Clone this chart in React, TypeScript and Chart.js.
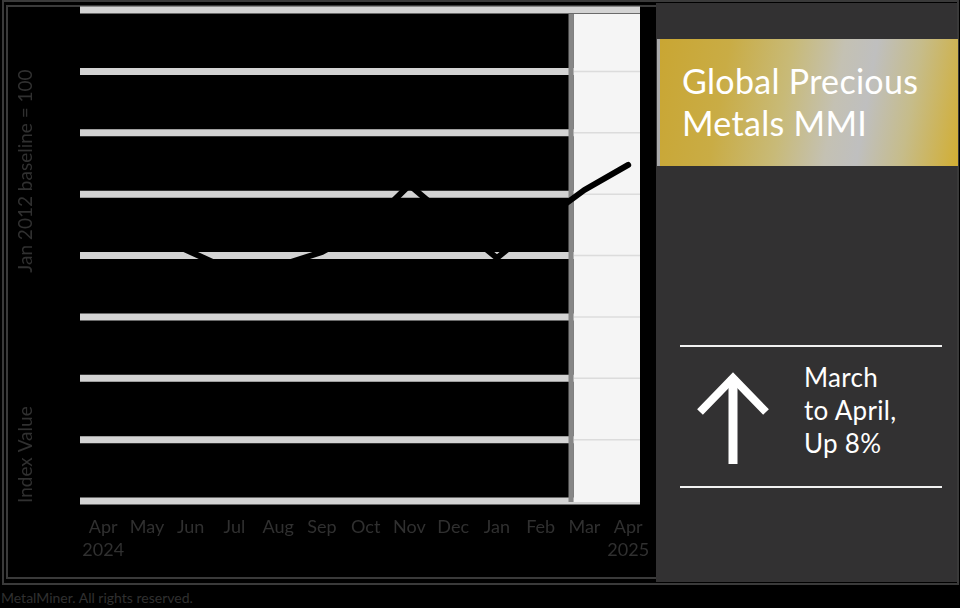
import React, { useEffect, useRef } from "react";
import { Chart, registerables } from "chart.js";

Chart.register(...registerables);

// ---- data ----
const months = ["Apr", "May", "Jun", "Jul", "Aug", "Sep", "Oct", "Nov", "Dec", "Jan", "Feb", "Mar", "Apr"];
const years = ["2024", "", "", "", "", "", "", "", "", "", "", "", "2025"];
const mmiValues = [1120, 1096, 1014, 933, 957, 1014, 1112, 1287, 1136, 990, 1136, 1267, 1369];
const yTicks = [0, 250, 500, 750, 1000, 1250, 1500, 1750, 2000];
const yTitleBottom = "Index Value";
const yTitleTop = "Jan 2012 baseline = 100";
const headline = ["Global Precious", "Metals MMI"];
const changeText = ["March", "to April,", "Up 8%"];
const footerText = "MetalMiner. All rights reserved.";
const highlightFrom = 10.75;

const FONT = "Lato, 'Open Sans', sans-serif";
const DIM_TEXT = "#303030";

const backdropPlugin = {
  id: "backdrop",
  beforeDatasetsDraw(chart: any) {
    const { ctx, chartArea: a, scales } = chart;
    const xs = scales.x;
    const ys = scales.y;
    ctx.save();
    // thick grid bands
    ctx.strokeStyle = "#d3d3d3";
    ctx.lineWidth = 7;
    yTicks.forEach((t) => {
      const py = ys.getPixelForValue(t);
      ctx.beginPath();
      ctx.moveTo(a.left, py);
      ctx.lineTo(a.right, py);
      ctx.stroke();
    });
    // highlighted last-month region
    const sx = xs.getPixelForValue(highlightFrom);
    ctx.fillStyle = "#f5f5f5";
    ctx.fillRect(sx, a.top + 4, a.right - sx, a.bottom - a.top - 3);
    ctx.strokeStyle = "#dcdcdc";
    ctx.lineWidth = 1.5;
    yTicks.slice(1, -1).forEach((t) => {
      const py = ys.getPixelForValue(t);
      ctx.beginPath();
      ctx.moveTo(sx, py);
      ctx.lineTo(a.right, py);
      ctx.stroke();
    });
    ctx.strokeStyle = "#868686";
    ctx.lineWidth = 5;
    ctx.beginPath();
    ctx.moveTo(sx - 2.5, a.top + 4);
    ctx.lineTo(sx - 2.5, a.bottom + 1);
    ctx.stroke();

    // y-axis titles (rotated)
    ctx.fillStyle = DIM_TEXT;
    ctx.font = `19px ${FONT}`;
    ctx.textBaseline = "middle";
    ctx.textAlign = "left";
    const tx = 26;
    ctx.save();
    ctx.translate(tx, a.bottom + 2);
    ctx.rotate(-Math.PI / 2);
    ctx.fillText(yTitleBottom, 0, 0);
    ctx.restore();
    ctx.save();
    ctx.translate(tx, a.top + (a.bottom - a.top) * 0.535);
    ctx.rotate(-Math.PI / 2);
    ctx.fillText(yTitleTop, 0, 0);
    ctx.restore();
    ctx.restore();
  },
};

function MMIChart() {
  const ref = useRef<HTMLCanvasElement | null>(null);
  useEffect(() => {
    if (!ref.current) return;
    const labels = months.map((m, i) => (years[i] ? [m, years[i]] : m));
    const chart = new Chart(ref.current, {
      type: "line",
      data: {
        datasets: [
          {
            label: "Global Precious Metals MMI",
            data: mmiValues.map((v, i) => ({ x: i, y: v })),
            borderColor: "#000000",
            borderWidth: 6,
            pointRadius: 0,
            tension: 0,
            borderCapStyle: "round",
            borderJoinStyle: "miter",
          } as any,
        ],
      },
      options: {
        responsive: false,
        animation: false,
        layout: { padding: { left: 8, top: 10, right: 16, bottom: 0 } },
        plugins: { legend: { display: false }, tooltip: { enabled: false }, title: { display: false } },
        scales: {
          x: {
            type: "linear",
            min: -0.53,
            max: 12.27,
            grid: { display: false, drawTicks: false },
            border: { display: false },
            afterBuildTicks: (scale: any) => {
              scale.ticks = months.map((_, i) => ({ value: i }));
            },
            afterFit: (scale: any) => {
              scale.height = 79;
              scale.paddingLeft = 0;
              scale.paddingRight = 0;
            },
            ticks: {
              autoSkip: false,
              maxRotation: 0,
              padding: 14,
              color: DIM_TEXT,
              font: { family: FONT, size: 18, lineHeight: 1.3 },
              callback: (val: any) => labels[Math.round(Number(val))] as any,
            },
          },
          y: {
            type: "linear",
            min: yTicks[0],
            max: yTicks[yTicks.length - 1],
            grid: { display: false, drawTicks: false },
            border: { display: false },
            afterBuildTicks: (scale: any) => {
              scale.ticks = yTicks.map((v) => ({ value: v }));
            },
            afterFit: (scale: any) => {
              scale.width = 72;
              scale.paddingTop = 0;
              scale.paddingBottom = 0;
            },
            ticks: { display: false },
          },
        },
      },
      plugins: [backdropPlugin],
    });
    return () => chart.destroy();
  }, []);
  return <canvas ref={ref} width={656} height={580} style={{ display: "block" }} />;
}

export default function App() {
  useEffect(() => {
    document.body.style.margin = "0";
    document.body.style.background = "#000";
  }, []);
  const abs = (o: React.CSSProperties): React.CSSProperties => ({ position: "absolute", boxSizing: "border-box", ...o });
  return (
    <div style={{ position: "relative", width: 960, height: 608, background: "#000", overflow: "hidden", fontFamily: FONT }}>
      <div style={abs({ left: 2, top: 0, width: 957, height: 585, border: "2px solid #3a3a3a" })} />
      <div style={abs({ left: 6, top: 5, width: 652, height: 574, border: "2px solid #3a3a3a" })} />
      <div style={abs({ left: 0, top: 0, width: 656, height: 580 })}>
        <MMIChart />
      </div>
      <div style={abs({ left: 656, top: 3, width: 301, height: 579, background: "#323132" })} />
      <div
        style={abs({
          left: 657,
          top: 39,
          width: 301,
          height: 127,
          background:
            "linear-gradient(100deg, #c9a633 0%, #c9ac45 22%, #c8ba78 42%, #c4c1b3 58%, #bfbfbf 68%, #c6bc8a 82%, #d2ae33 100%)",
          borderLeft: "3px solid #a9a9a9",
        })}
      />
      <div
        style={abs({
          left: 682,
          top: 59.5,
          color: "#fff",
          fontSize: 34,
          letterSpacing: 0.3,
          lineHeight: "42px",
          whiteSpace: "nowrap",
        })}
      >
        {headline.map((h, i) => (
          <div key={i}>{h}</div>
        ))}
      </div>
      <div style={abs({ left: 680, top: 345, width: 262, height: 2, background: "#f2f2f2" })} />
      <div style={abs({ left: 680, top: 486, width: 262, height: 2, background: "#f2f2f2" })} />
      <svg style={{ position: "absolute", left: 690, top: 365, overflow: "visible" }} width={90} height={110}>
        <line x1={43} y1={12} x2={43} y2={99} stroke="#fff" strokeWidth={9} />
        <polyline points="10,47 43,13 76,47" fill="none" stroke="#fff" strokeWidth={8} strokeLinejoin="miter" />
      </svg>
      <div
        style={abs({
          left: 804,
          top: 361,
          color: "#fff",
          fontSize: 26,
          letterSpacing: 0.3,
          lineHeight: "33px",
          whiteSpace: "nowrap",
        })}
      >
        {changeText.map((t, i) => (
          <div key={i}>{t}</div>
        ))}
      </div>
      <div style={abs({ left: 1, top: 590, color: DIM_TEXT, fontSize: 14, lineHeight: "16px", whiteSpace: "nowrap" })}>
        {footerText}
      </div>
    </div>
  );
}
